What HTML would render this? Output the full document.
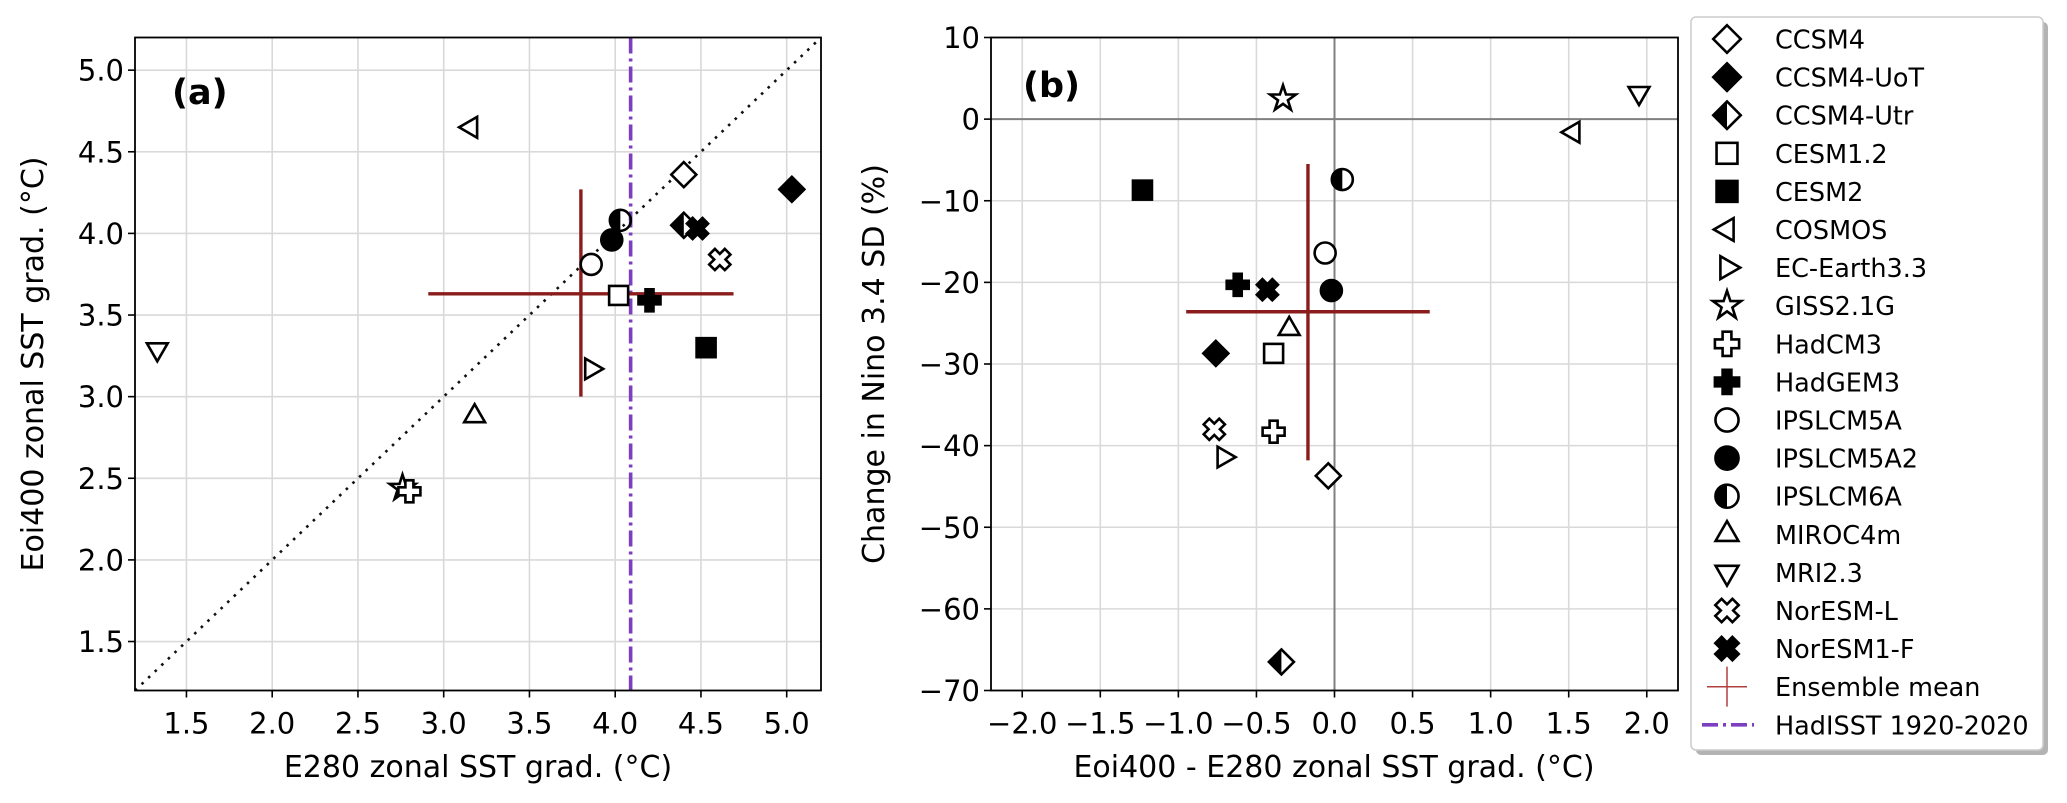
<!DOCTYPE html>
<html><head><meta charset="utf-8">
<style>
html,body{margin:0;padding:0;background:#fff;}
svg{display:block;font-family:"DejaVu Sans","Liberation Sans",sans-serif;}
</style></head>
<body>
<svg id="fig" width="2067" height="803" viewBox="0 0 2067 803" xmlns="http://www.w3.org/2000/svg"></svg>
<script>
const models = ["CCSM4","CCSM4-UoT","CCSM4-Utr","CESM1.2","CESM2","COSMOS","EC-Earth3.3","GISS2.1G","HadCM3","HadGEM3","IPSLCM5A","IPSLCM5A2","IPSLCM6A","MIROC4m","MRI2.3","NorESM-L","NorESM1-F"];
const markers = ["D","Dfill","Dleft","s","sfill","<",">","*","P","Pfill","o","ofill","oleft","^","v","X","Xfill"];
const aX = [4.40,5.03,4.40,4.02,4.53,3.16,3.86,2.76,2.80,4.20,3.86,3.98,4.03,3.18,1.33,4.61,4.48];
const aY = [4.36,4.27,4.05,3.62,3.30,4.65,3.17,2.44,2.42,3.59,3.81,3.96,4.08,2.88,3.29,3.84,4.03];
const bX = [-0.04,-0.76,-0.34,-0.39,-1.23,1.53,-0.71,-0.33,-0.39,-0.62,-0.06,-0.02,0.05,-0.29,1.95,-0.77,-0.43];
const bY = [-43.7,-28.7,-66.5,-28.7,-8.7,-1.6,-41.4,2.5,-38.3,-20.3,-16.4,-21.0,-7.4,-25.7,3.2,-38.0,-20.9];
const aMean = [3.80,3.63];
const aMeanXRange = [2.91,4.69];
const aMeanYRange = [3.00,4.27];
const bMean = [-0.17,-23.6];
const bMeanXRange = [-0.95,0.61];
const bMeanYRange = [-41.8,-5.5];
const hadisst = 4.09;
const aXTicks = [1.5,2.0,2.5,3.0,3.5,4.0,4.5,5.0];
const aYTicks = [1.5,2.0,2.5,3.0,3.5,4.0,4.5,5.0];
const bXTicks = [-2.0,-1.5,-1.0,-0.5,0.0,0.5,1.0,1.5,2.0];
const bYTicks = [10,0,-10,-20,-30,-40,-50,-60,-70];

const NS="http://www.w3.org/2000/svg";
const svg=document.getElementById('fig');
function mk(tag,attrs,parent){const e=document.createElementNS(NS,tag);for(const k in attrs)e.setAttribute(k,attrs[k]);(parent||svg).appendChild(e);return e;}
function fmt(v,d){let s=v.toFixed(d);if(v<0)s="\u2212"+Math.abs(v).toFixed(d);return s;}

const pA={l:135,r:821,t:37.5,b:690.5,x0:1.2,x1:5.2,y0:1.2,y1:5.2};
const pB={l:991,r:1678,t:37.5,b:690.5,x0:-2.2,x1:2.2,y0:-70,y1:10};
function sx(p,v){return p.l+(v-p.x0)/(p.x1-p.x0)*(p.r-p.l);}
function sy(p,v){return p.b-(v-p.y0)/(p.y1-p.y0)*(p.b-p.t);}

function drawMarker(g,type,cx,cy,k){
  k=k||1;
  const sw=2.6, ink="#000";
  const fill = type.endsWith("fill")?ink:"#fff";
  const base=type.replace("fill","").replace("left","");
  const half=type.endsWith("left");
  if(base==="D"){
    const d=12.5*k;
    const pts=`${cx},${cy-d} ${cx+d},${cy} ${cx},${cy+d} ${cx-d},${cy}`;
    if(half){mk('polygon',{points:`${cx},${cy-d} ${cx},${cy+d} ${cx-d},${cy}`,fill:ink},g);}
    mk('polygon',{points:pts,fill:half?"none":fill,stroke:ink,'stroke-width':sw,'stroke-linejoin':'miter'},g);
  } else if(base==="s"){
    const h=9.5*k;
    mk('rect',{x:cx-h,y:cy-h,width:2*h,height:2*h,fill:fill,stroke:ink,'stroke-width':sw},g);
  } else if(base==="o"){
    const r=10.5*k;
    if(half){mk('path',{d:`M${cx},${cy-r} A${r},${r} 0 0 0 ${cx},${cy+r} Z`,fill:ink},g);}
    mk('circle',{cx:cx,cy:cy,r:r,fill:half?"none":fill,stroke:ink,'stroke-width':sw},g);
  } else if(base==="^"||base==="v"||base==="<"||base===">"){
    const a={"^":-90,"v":90,"<":180,">":0}[base];
    const R=12*k;
    const pts=[0,120,240].map(d=>{const t=(a+d)*Math.PI/180;return (cx+R*Math.cos(t)).toFixed(1)+","+(cy+R*Math.sin(t)).toFixed(1);}).join(" ");
    mk('polygon',{points:pts,fill:"#fff",stroke:ink,'stroke-width':sw,'stroke-linejoin':'miter'},g);
  } else if(base==="*"){
    let pts=[];for(let i=0;i<10;i++){const rr=(i%2?5.2:13.5)*k;const t=(-90+i*36)*Math.PI/180;pts.push((cx+rr*Math.cos(t)).toFixed(1)+","+(cy+rr*Math.sin(t)).toFixed(1));}
    mk('polygon',{points:pts.join(" "),fill:"#fff",stroke:ink,'stroke-width':sw,'stroke-linejoin':'miter'},g);
  } else if(base==="P"||base==="X"){
    const R=11*k,w=4*k;
    const P=[[-w,-R],[w,-R],[w,-w],[R,-w],[R,w],[w,w],[w,R],[-w,R],[-w,w],[-R,w],[-R,-w],[-w,-w]];
    const ang=base==="X"?Math.PI/4:0;
    const pts=P.map(([x,y])=>(cx+x*Math.cos(ang)-y*Math.sin(ang)).toFixed(1)+","+(cy+x*Math.sin(ang)+y*Math.cos(ang)).toFixed(1)).join(" ");
    mk('polygon',{points:pts,fill:fill,stroke:ink,'stroke-width':sw,'stroke-linejoin':'miter'},g);
  }
}

function axesFrame(p,xt,yt,xd,yd,name){
  const g=mk('g',{});
  
  
  xt.forEach(v=>{const x=sx(p,v);
    const l=mk('line',{x1:x,y1:p.t,x2:x,y2:p.b,stroke:"#d9d9d9",'stroke-width':1.6},g);
    
    
    mk('line',{x1:x,y1:p.b,x2:x,y2:p.b+7,stroke:"#000",'stroke-width':1.6},g);
    const t=mk('text',{x:x,y:p.b+43,'font-size':29,'text-anchor':'middle',fill:"#000"},g);t.textContent=fmt(v,xd);
    
    
  });
  yt.forEach(v=>{const y=sy(p,v);
    const l=mk('line',{x1:p.l,y1:y,x2:p.r,y2:y,stroke:"#d9d9d9",'stroke-width':1.6},g);
    
    
    mk('line',{x1:p.l-7,y1:y,x2:p.l,y2:y,stroke:"#000",'stroke-width':1.6},g);
    const t=mk('text',{x:p.l-11,y:y+10.5,'font-size':29,'text-anchor':'end',fill:"#000"},g);t.textContent=fmt(v,yd);
    
    
  });
  return g;
}
function border(p){const r=mk('rect',{x:p.l,y:p.t,width:p.r-p.l,height:p.b-p.t,fill:"none",stroke:"#000",'stroke-width':1.8});
  
  }

// Panel A
axesFrame(pA,aXTicks,aYTicks,1,1,'panel-a-axes');
const diag=mk('line',{x1:sx(pA,1.2),y1:sy(pA,1.2),x2:sx(pA,5.2),y2:sy(pA,5.2),stroke:"#111",'stroke-width':2.6,'stroke-dasharray':'2.6 6.5'});


const hl=mk('line',{x1:sx(pA,hadisst),y1:pA.t,x2:sx(pA,hadisst),y2:pA.b,stroke:"#7b3fbf",'stroke-width':3.6,'stroke-dasharray':'16 5 3 5'});


const emA=mk('g',{});


mk('line',{x1:sx(pA,aMeanXRange[0]),y1:sy(pA,aMean[1]),x2:sx(pA,aMeanXRange[1]),y2:sy(pA,aMean[1]),stroke:"#8b1c1c",'stroke-width':3.4},emA);
mk('line',{x1:sx(pA,aMean[0]),y1:sy(pA,aMeanYRange[0]),x2:sx(pA,aMean[0]),y2:sy(pA,aMeanYRange[1]),stroke:"#8b1c1c",'stroke-width':3.4},emA);
models.forEach((m,i)=>{const g=mk('g',{});
  
  
  drawMarker(g,markers[i],sx(pA,aX[i]),sy(pA,aY[i]));});
border(pA);
let t=mk('text',{x:172,y:104,'font-size':35,'font-weight':'bold'});t.textContent="(a)";


t=mk('text',{x:478,y:777,'font-size':30,'text-anchor':'middle'});t.textContent="E280 zonal SST grad. (\u00B0C)";


t=mk('text',{x:0,y:0,'font-size':30,'text-anchor':'middle',transform:`translate(43,364) rotate(-90)`});t.textContent="Eoi400 zonal SST grad. (\u00B0C)";



// Panel B
axesFrame(pB,bXTicks,bYTicks,1,0,'panel-b-axes');
const z1=mk('line',{x1:pB.l,y1:sy(pB,0),x2:pB.r,y2:sy(pB,0),stroke:"#808080",'stroke-width':2});


const z2=mk('line',{x1:sx(pB,0),y1:pB.t,x2:sx(pB,0),y2:pB.b,stroke:"#808080",'stroke-width':2});


const emB=mk('g',{});


mk('line',{x1:sx(pB,bMeanXRange[0]),y1:sy(pB,bMean[1]),x2:sx(pB,bMeanXRange[1]),y2:sy(pB,bMean[1]),stroke:"#8b1c1c",'stroke-width':3.4},emB);
mk('line',{x1:sx(pB,bMean[0]),y1:sy(pB,bMeanYRange[0]),x2:sx(pB,bMean[0]),y2:sy(pB,bMeanYRange[1]),stroke:"#8b1c1c",'stroke-width':3.4},emB);
models.forEach((m,i)=>{const g=mk('g',{});
  
  
  drawMarker(g,markers[i],sx(pB,bX[i]),sy(pB,bY[i]));});
border(pB);
t=mk('text',{x:1023,y:97,'font-size':35,'font-weight':'bold'});t.textContent="(b)";


t=mk('text',{x:1334,y:777,'font-size':30,'text-anchor':'middle'});t.textContent="Eoi400 - E280 zonal SST grad. (\u00B0C)";


t=mk('text',{x:0,y:0,'font-size':30,'text-anchor':'middle',transform:`translate(884,364) rotate(-90)`});t.textContent="Change in Nino 3.4 SD (%)";



// Legend
const lg=mk('g',{});


mk('rect',{x:1696,y:22,width:352,height:733,rx:5,fill:"#b3b3b3"},lg);
mk('rect',{x:1691,y:17,width:352,height:733,rx:5,fill:"#fff",stroke:"#ccc",'stroke-width':1.5},lg);
const lgY0=39, lgDy=38.1;
models.forEach((m,i)=>{const y=lgY0+i*lgDy;const g=mk('g',{},lg);
  
  
  drawMarker(g,markers[i],1727,y,1.1);
  const tt=mk('text',{x:1775,y:y+9.5,'font-size':25.5},g);tt.textContent=m;});
let ly=lgY0+17*lgDy;
let ge=mk('g',{},lg);


mk('line',{x1:1707,y1:ly,x2:1747,y2:ly,stroke:"#b04040",'stroke-width':1.5},ge);
mk('line',{x1:1727,y1:ly-20,x2:1727,y2:ly+20,stroke:"#b04040",'stroke-width':1.5},ge);
t=mk('text',{x:1775,y:ly+9.5,'font-size':25.5},ge);t.textContent="Ensemble mean";
ly+=lgDy;
ge=mk('g',{},lg);


mk('line',{x1:1702,y1:ly,x2:1754,y2:ly,stroke:"#7b3fbf",'stroke-width':3.6,'stroke-dasharray':'16 5 3 5'},ge);
t=mk('text',{x:1775,y:ly+9.5,'font-size':25.5},ge);t.textContent="HadISST 1920-2020";
</script>
</body></html>
